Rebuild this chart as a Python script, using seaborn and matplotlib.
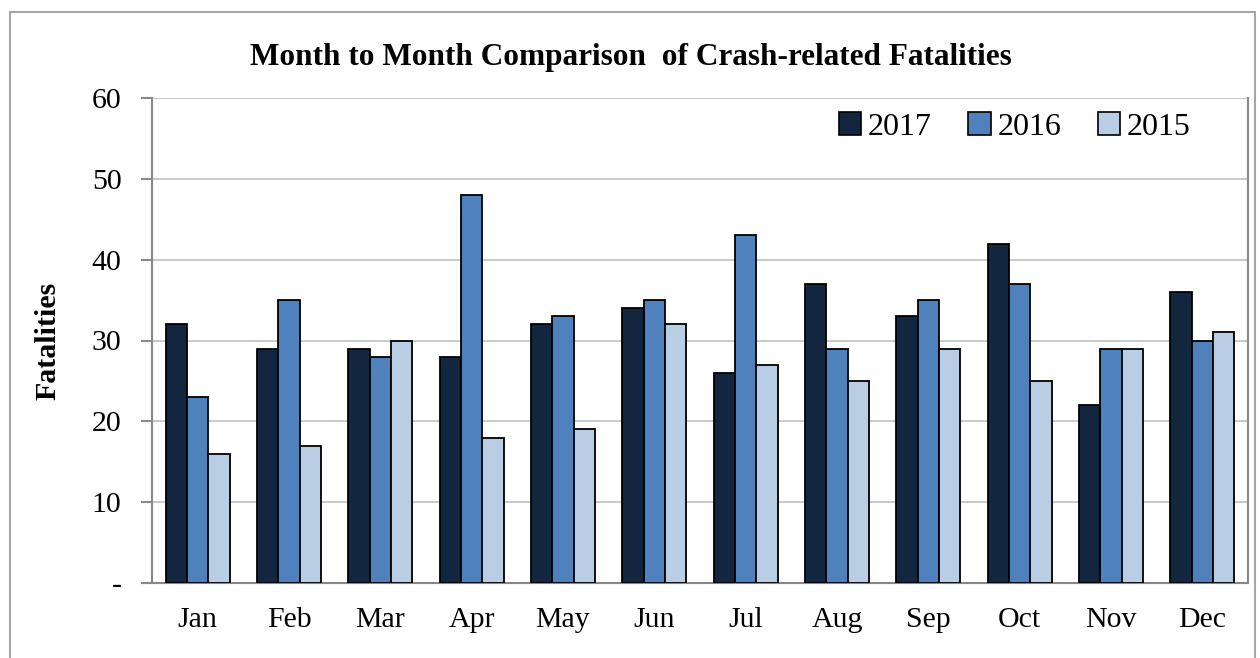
import matplotlib
matplotlib.use("Agg")
import matplotlib.pyplot as plt
from matplotlib.patches import Rectangle
from matplotlib.ticker import FuncFormatter, FixedLocator
import seaborn as sns
import pandas as pd
import numpy as np

months = ["Jan", "Feb", "Mar", "Apr", "May", "Jun", "Jul", "Aug", "Sep", "Oct", "Nov", "Dec"]
years = ["2017", "2016", "2015"]
fatal_2017 = [32, 29, 29, 28, 32, 34, 26, 37, 33, 42, 22, 36]
fatal_2016 = [23, 35, 28, 48, 33, 35, 43, 29, 35, 37, 29, 30]
fatal_2015 = [16, 17, 30, 18, 19, 32, 27, 25, 29, 25, 29, 31]
colors = ["#12263F", "#4F81BD", "#B9CDE5"]

df = pd.DataFrame({
    "Month": months * 3,
    "Year": [years[0]] * 12 + [years[1]] * 12 + [years[2]] * 12,
    "Fatalities": fatal_2017 + fatal_2016 + fatal_2015,
})

sns.set_style("white")
plt.rcParams["font.family"] = ["Liberation Serif", "DejaVu Serif"]
plt.rcParams["text.color"] = "black"
plt.rcParams["axes.labelcolor"] = "black"

fig = plt.figure(figsize=(12.6, 6.58), dpi=100)
ax = fig.add_axes([152 / 1260, 1 - 583 / 658, (1248 - 152) / 1260, (583 - 98) / 658])

sns.barplot(data=df, x="Month", y="Fatalities", hue="Year", order=months,
            hue_order=years, palette=colors, width=0.7, edgecolor="black",
            linewidth=1.3, saturation=1, ax=ax, zorder=3)

ax.set_xlim(-0.5, 11.5)
ax.set_ylim(0, 60)
ax.set_yticks(np.arange(0, 61, 10))
ax.yaxis.set_major_formatter(FuncFormatter(lambda v, p: "-" if v == 0 else f"{int(v)}"))
ax.grid(axis="y", color="#C0C0C0", linewidth=1.2, zorder=0)
ax.set_axisbelow(True)

ax.xaxis.set_minor_locator(FixedLocator(np.arange(-0.5, 12, 1)))
ax.tick_params(axis="x", which="major", length=0, pad=17, labelsize=21.5, labelcolor="black")
ax.tick_params(axis="x", which="minor", length=8, width=1.5, color="#888888", direction="out")
ax.tick_params(axis="y", length=8, width=1.5, color="#888888", direction="out", pad=14,
               labelsize=21.5, labelcolor="black", left=True)

for side in ["left", "bottom", "right"]:
    ax.spines[side].set_color("#888888")
    ax.spines[side].set_linewidth(1.5)
ax.spines["top"].set_visible(False)

ax.set_xlabel("")
ax.set_ylabel("Fatalities", fontsize=21.5, fontweight="bold", labelpad=22)

fig.text(0.5004, 1 - 57 / 658, "Month to Month Comparison  of Crash-related Fatalities",
         ha="center", va="center", fontsize=22.5, fontweight="bold")

leg = ax.legend(loc="upper right", bbox_to_anchor=(0.965, 1.01), ncol=3, frameon=False,
                fontsize=23, handlelength=0.7, handleheight=0.7, handletextpad=0.2,
                columnspacing=1.15, borderaxespad=0.2)
for h in leg.legend_handles:
    h.set_edgecolor("black")
    h.set_linewidth(1.2)

fig.patches.append(Rectangle((10 / 1260, -0.05), (1255 - 10) / 1260, 1 - 12 / 658 + 0.05,
                             transform=fig.transFigure, fill=False,
                             edgecolor="#A6A6A6", linewidth=1.5))

fig.savefig("out.png", dpi=100)
